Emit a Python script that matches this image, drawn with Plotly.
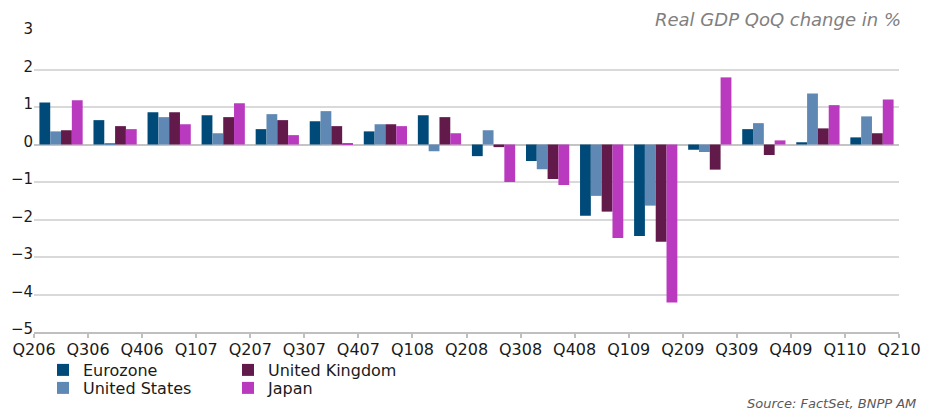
import plotly.graph_objects as go

# Quarter labels sit on the category boundaries; 16 bar groups fill the gaps
quarters = ["Q206", "Q306", "Q406", "Q107", "Q207", "Q307", "Q407", "Q108", "Q208",
            "Q308", "Q408", "Q109", "Q209", "Q309", "Q409", "Q110", "Q210"]

eurozone = [1.12, 0.65, 0.86, 0.78, 0.41, 0.62, 0.35, 0.78, -0.31, -0.44, -1.90, -2.44,
            -0.14, 0.41, 0.06, 0.19]
united_states = [0.35, 0.03, 0.73, 0.30, 0.81, 0.89, 0.54, -0.18, 0.38, -0.66, -1.37, -1.63,
                 -0.20, 0.57, 1.36, 0.75]
united_kingdom = [0.38, 0.49, 0.86, 0.73, 0.65, 0.49, 0.54, 0.73, -0.07, -0.92, -1.79, -2.59,
                  -0.67, -0.28, 0.43, 0.30]
japan = [1.18, 0.41, 0.54, 1.10, 0.25, 0.02, 0.49, 0.30, -1.00, -1.08, -2.49, -4.21,
         1.79, 0.11, 1.05, 1.20]

# name, values, colour, legend row, order in row
series = [
    ("Eurozone", eurozone, "#004a7a", "legend", 1),
    ("United States", united_states, "#5f89b4", "legend2", 1),
    ("United Kingdom", united_kingdom, "#621a4a", "legend", 2),
    ("Japan", japan, "#b93abf", "legend2", 2),
]

W, H = 925, 410
M_L, M_R, M_T, M_B = 34, 26, 32, 78
font_family = "DejaVu Sans, Verdana, sans-serif"
x_pos = [i + 0.5 for i in range(len(eurozone))]


def paper_x(px):
    return (px - M_L) / (W - M_L - M_R)


def paper_y(py):
    return (H - M_B - py) / (H - M_T - M_B)


fig = go.Figure()
for name, values, color, leg, rank in series:
    fig.add_trace(go.Bar(
        x=x_pos, y=values, name=name, marker_color=color, marker_line_width=0,
        legendrank=rank, legend=leg,
    ))

legend_style = dict(
    xref="container", yref="container", xanchor="left", yanchor="middle",
    orientation="h", bgcolor="rgba(0,0,0,0)",
    font=dict(family=font_family, size=16, color="#1a1a1a"),
    itemwidth=30, entrywidth=140, entrywidthmode="pixels",
)

fig.update_layout(
    width=W, height=H,
    margin=dict(l=M_L, r=M_R, t=M_T, b=M_B, autoexpand=False),
    paper_bgcolor="white", plot_bgcolor="white",
    barmode="group", bargap=0.2, bargroupgap=0,
    font=dict(family=font_family, size=16, color="#1a1a1a"),
    showlegend=True,
    legend=dict(x=43 / W, y=1 - 370 / H, **legend_style),
    legend2=dict(x=43 / W, y=1 - 388 / H, **legend_style),
    xaxis=dict(
        range=[0, len(quarters) - 1],
        tickmode="array", tickvals=list(range(len(quarters))), ticktext=quarters,
        tickangle=0,
        ticks="outside", ticklen=4, tickcolor="#bfbfbf", tickwidth=1.5,
        ticklabelstandoff=-2,
        showline=True, linecolor="#bfbfbf", linewidth=1.5,
        showgrid=False, zeroline=False,
        tickfont=dict(family=font_family, size=16, color="#1a1a1a"),
    ),
    yaxis=dict(
        range=[-5, 3], dtick=1, tick0=0,
        showgrid=True, gridcolor="#d9d9d9", gridwidth=1.5,
        zeroline=True, zerolinecolor="#c4c4c4", zerolinewidth=1.5,
        showline=False, ticks="",
        ticklabelshift=-3,
        tickfont=dict(family=font_family, size=15, color="#1a1a1a"),
    ),
    annotations=[
        dict(text="<i>Real GDP QoQ change in %</i>", xref="paper", yref="paper",
             x=paper_x(903), y=paper_y(20), xanchor="right", yanchor="middle",
             showarrow=False, font=dict(family=font_family, size=18, color="#808080")),
        dict(text="<i>Source: FactSet, BNPP AM</i>", xref="paper", yref="paper",
             x=paper_x(918), y=paper_y(403), xanchor="right", yanchor="middle",
             showarrow=False, font=dict(family=font_family, size=13, color="#595959")),
    ],
)

fig.write_html("out.html")
